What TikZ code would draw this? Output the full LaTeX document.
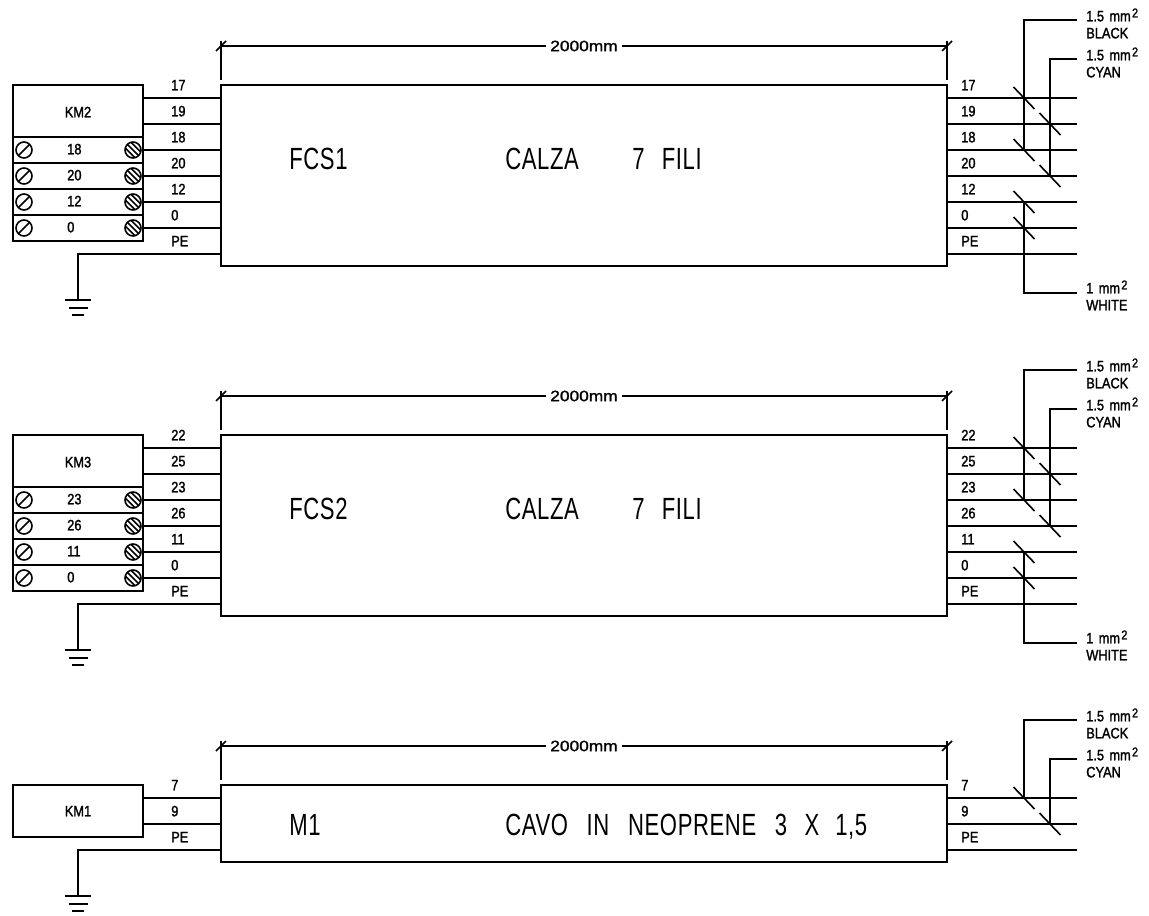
\documentclass[tikz,border=0pt]{standalone}
\usepackage{fontspec}
\newfontfamily\cadfont[FakeStretch=0.85,FakeBold=1.5]{Liberation Sans}
\newfontfamily\caddim[FakeStretch=1.15,FakeBold=1.5]{Liberation Sans}
\newfontfamily\cadbig[FakeStretch=0.72,LetterSpace=2]{Liberation Sans}
\newcommand{\mmsq}{\hspace{4pt}mm\hspace{1pt}\raisebox{3pt}{\fontsize{9.5}{10}\selectfont 2}}
\newlength{\du}
\setlength{\du}{0.75pt}
\tikzset{
  wire/.style={line width=1.6\du,black},
  boxnode/.style={draw,line width=1.6\du,anchor=north west,inner sep=0pt,outer sep=0pt},
  wirelabel/.style={anchor=west,inner sep=0pt,text height=8pt,text depth=0pt,font=\cadfont\fontsize{11.3}{12}\selectfont},
  dimlabel/.style={inner ysep=0pt,inner xsep=4\du,font=\caddim\fontsize{11.3}{12}\selectfont},
  bigtext/.style={anchor=west,inner sep=0pt,text height=16pt,text depth=0pt,font=\cadbig\fontsize{23}{24}\selectfont},
  screwslot/.pic={
    \draw[wire] (0,0) circle (8);
    \draw[wire] (-5.6,5.6) -- (5.6,-5.6);
  },
  screwcross/.pic={
    \draw[wire] (0,0) circle (8);
    \draw[wire] (-5.6,-5.6) -- (5.6,5.6);
    \draw[wire] (-1.9,-7.6) -- (7.6,1.9);
    \draw[wire] (-7.6,-1.9) -- (1.9,7.6);
  },
  earth/.pic={
    \draw[wire] (-13,0) -- (13,0);
    \draw[wire] (-9,8) -- (10,8);
    \draw[wire] (-6,15) -- (6,15);
  },
  tick/.pic={
    \draw[wire] (-10.5,-11) -- (10.5,11);
  },
  dimtick/.pic={
    \draw[wire] (-5,5) -- (5,-5);
  }
}

\begin{document}
\begin{tikzpicture}[x=\du,y=-\du]
\useasboundingbox (0,0) rectangle (1149,916);

% FCS1
\node[boxnode,minimum width=130\du,minimum height=156\du] (km2) at (13,85) {};
\node[boxnode,minimum width=726\du,minimum height=181\du] (fcsone) at (221,85) {};
\node[wirelabel,anchor=center] (km2name) at (78,112) {KM2};
\coordinate (ra1) at (13,137); \coordinate (rb1) at (143,137); \draw[wire] (ra1) -- (rb1);
\coordinate (ra2) at (13,163); \coordinate (rb2) at (143,163); \draw[wire] (ra2) -- (rb2);
\coordinate (ra3) at (13,189); \coordinate (rb3) at (143,189); \draw[wire] (ra3) -- (rb3);
\coordinate (ra4) at (13,215); \coordinate (rb4) at (143,215); \draw[wire] (ra4) -- (rb4);
\node[wirelabel] (kma) at (67,149) {18};
\node[wirelabel] (kmb) at (67,175) {20};
\node[wirelabel] (kmc) at (67,201) {12};
\node[wirelabel] (kmd) at (67,227) {0};
\pic at (24,150) {screwslot};
\pic at (24,176) {screwslot};
\pic at (24,202) {screwslot};
\pic at (24,228) {screwslot};
\pic at (133,150) {screwcross};
\pic at (133,176) {screwcross};
\pic at (133,202) {screwcross};
\pic at (133,228) {screwcross};
\coordinate (fa1) at (143,98); \coordinate (fb1) at (221,98); \draw[wire] (fa1) -- (fb1);
\coordinate (fa2) at (143,124); \coordinate (fb2) at (221,124); \draw[wire] (fa2) -- (fb2);
\coordinate (fa3) at (143,150); \coordinate (fb3) at (221,150); \draw[wire] (fa3) -- (fb3);
\coordinate (fa4) at (143,176); \coordinate (fb4) at (221,176); \draw[wire] (fa4) -- (fb4);
\coordinate (fa5) at (143,202); \coordinate (fb5) at (221,202); \draw[wire] (fa5) -- (fb5);
\coordinate (fa6) at (143,228); \coordinate (fb6) at (221,228); \draw[wire] (fa6) -- (fb6);
\coordinate (fb7) at (221,254); \coordinate (gnda) at (78,300); \draw[wire] (fb7) -| (gnda);
\pic at (gnda) {earth};
\node[wirelabel] (fla1) at (171,85) {17};
\node[wirelabel] (fla2) at (171,111) {19};
\node[wirelabel] (fla3) at (171,137) {18};
\node[wirelabel] (fla4) at (171,163) {20};
\node[wirelabel] (fla5) at (171,189) {12};
\node[wirelabel] (fla6) at (171,215) {0};
\node[wirelabel] (fla7) at (171,241) {PE};
\coordinate (fc1) at (947,98); \coordinate (fd1) at (1077,98); \draw[wire] (fc1) -- (fd1);
\coordinate (fc2) at (947,124); \coordinate (fd2) at (1077,124); \draw[wire] (fc2) -- (fd2);
\coordinate (fc3) at (947,150); \coordinate (fd3) at (1077,150); \draw[wire] (fc3) -- (fd3);
\coordinate (fc4) at (947,176); \coordinate (fd4) at (1077,176); \draw[wire] (fc4) -- (fd4);
\coordinate (fc5) at (947,202); \coordinate (fd5) at (1077,202); \draw[wire] (fc5) -- (fd5);
\coordinate (fc6) at (947,228); \coordinate (fd6) at (1077,228); \draw[wire] (fc6) -- (fd6);
\coordinate (fc7) at (947,254); \coordinate (fd7) at (1077,254); \draw[wire] (fc7) -- (fd7);
\node[wirelabel] (flb1) at (961,85) {17};
\node[wirelabel] (flb2) at (961,111) {19};
\node[wirelabel] (flb3) at (961,137) {18};
\node[wirelabel] (flb4) at (961,163) {20};
\node[wirelabel] (flb5) at (961,189) {12};
\node[wirelabel] (flb6) at (961,215) {0};
\node[wirelabel] (flb7) at (961,241) {PE};
\pic at (1024,98) {tick};
\pic at (1050,124) {tick};
\pic at (1024,150) {tick};
\pic at (1050,176) {tick};
\pic at (1024,202) {tick};
\pic at (1024,228) {tick};
\coordinate (fblacka) at (1077,20); \coordinate (fblackb) at (1024,150); \draw[wire] (fblacka) -| (fblackb);
\coordinate (fcyana) at (1077,59); \coordinate (fcyanb) at (1050,176); \draw[wire] (fcyana) -| (fcyanb);
\coordinate (fwhitea) at (1077,293); \coordinate (fwhiteb) at (1024,202); \draw[wire] (fwhitea) -| (fwhiteb);
\node[wirelabel] (fblackt) at (1086,16) {1.5\mmsq};
\node[wirelabel] (fblackn) at (1086,33) {BLACK};
\node[wirelabel] (fcyant) at (1086,55) {1.5\mmsq};
\node[wirelabel] (fcyann) at (1086,72) {CYAN};
\node[wirelabel] (fwhitet) at (1086,288) {1\mmsq};
\node[wirelabel] (fwhiten) at (1086,305) {WHITE};
\node[dimlabel] (fdim) at (584,46) {2000mm};
\coordinate (fdl) at (221,46); \coordinate (fdr) at (947,46);
\draw[wire] (fdl) -- (fdim.west) (fdim.east) -- (fdr);
\coordinate (fel) at (221,80); \draw[wire] (fdl) ++(0,-5) -- (fel);
\coordinate (fer) at (947,80); \draw[wire] (fdr) ++(0,-5) -- (fer);
\pic at (fdl) {dimtick};
\pic at (fdr) {dimtick};
\node[bigtext] (fname) at (289,159) {FCS1};
\node[bigtext] (fcalza) at (505,159) {CALZA};
\node[bigtext] (ffili) at (632,159) {7\hspace{13pt}FILI};

% FCS2
\node[boxnode,minimum width=130\du,minimum height=156\du] (km3) at (13,435) {};
\node[boxnode,minimum width=726\du,minimum height=181\du] (fcstwo) at (221,435) {};
\node[wirelabel,anchor=center] (km3name) at (78,462) {KM3};
\coordinate (sa1) at (13,487); \coordinate (sb1) at (143,487); \draw[wire] (sa1) -- (sb1);
\coordinate (sa2) at (13,513); \coordinate (sb2) at (143,513); \draw[wire] (sa2) -- (sb2);
\coordinate (sa3) at (13,539); \coordinate (sb3) at (143,539); \draw[wire] (sa3) -- (sb3);
\coordinate (sa4) at (13,565); \coordinate (sb4) at (143,565); \draw[wire] (sa4) -- (sb4);
\node[wirelabel] (kme) at (67,499) {23};
\node[wirelabel] (kmf) at (67,525) {26};
\node[wirelabel] (kmg) at (67,551) {11};
\node[wirelabel] (kmh) at (67,577) {0};
\pic at (24,500) {screwslot};
\pic at (24,526) {screwslot};
\pic at (24,552) {screwslot};
\pic at (24,578) {screwslot};
\pic at (133,500) {screwcross};
\pic at (133,526) {screwcross};
\pic at (133,552) {screwcross};
\pic at (133,578) {screwcross};
\coordinate (ga1) at (143,448); \coordinate (gb1) at (221,448); \draw[wire] (ga1) -- (gb1);
\coordinate (ga2) at (143,474); \coordinate (gb2) at (221,474); \draw[wire] (ga2) -- (gb2);
\coordinate (ga3) at (143,500); \coordinate (gb3) at (221,500); \draw[wire] (ga3) -- (gb3);
\coordinate (ga4) at (143,526); \coordinate (gb4) at (221,526); \draw[wire] (ga4) -- (gb4);
\coordinate (ga5) at (143,552); \coordinate (gb5) at (221,552); \draw[wire] (ga5) -- (gb5);
\coordinate (ga6) at (143,578); \coordinate (gb6) at (221,578); \draw[wire] (ga6) -- (gb6);
\coordinate (gb7) at (221,604); \coordinate (gndb) at (78,650); \draw[wire] (gb7) -| (gndb);
\pic at (gndb) {earth};
\node[wirelabel] (gla1) at (171,435) {22};
\node[wirelabel] (gla2) at (171,461) {25};
\node[wirelabel] (gla3) at (171,487) {23};
\node[wirelabel] (gla4) at (171,513) {26};
\node[wirelabel] (gla5) at (171,539) {11};
\node[wirelabel] (gla6) at (171,565) {0};
\node[wirelabel] (gla7) at (171,591) {PE};
\coordinate (gc1) at (947,448); \coordinate (gd1) at (1077,448); \draw[wire] (gc1) -- (gd1);
\coordinate (gc2) at (947,474); \coordinate (gd2) at (1077,474); \draw[wire] (gc2) -- (gd2);
\coordinate (gc3) at (947,500); \coordinate (gd3) at (1077,500); \draw[wire] (gc3) -- (gd3);
\coordinate (gc4) at (947,526); \coordinate (gd4) at (1077,526); \draw[wire] (gc4) -- (gd4);
\coordinate (gc5) at (947,552); \coordinate (gd5) at (1077,552); \draw[wire] (gc5) -- (gd5);
\coordinate (gc6) at (947,578); \coordinate (gd6) at (1077,578); \draw[wire] (gc6) -- (gd6);
\coordinate (gc7) at (947,604); \coordinate (gd7) at (1077,604); \draw[wire] (gc7) -- (gd7);
\node[wirelabel] (glb1) at (961,435) {22};
\node[wirelabel] (glb2) at (961,461) {25};
\node[wirelabel] (glb3) at (961,487) {23};
\node[wirelabel] (glb4) at (961,513) {26};
\node[wirelabel] (glb5) at (961,539) {11};
\node[wirelabel] (glb6) at (961,565) {0};
\node[wirelabel] (glb7) at (961,591) {PE};
\pic at (1024,448) {tick};
\pic at (1050,474) {tick};
\pic at (1024,500) {tick};
\pic at (1050,526) {tick};
\pic at (1024,552) {tick};
\pic at (1024,578) {tick};
\coordinate (gblacka) at (1077,370); \coordinate (gblackb) at (1024,500); \draw[wire] (gblacka) -| (gblackb);
\coordinate (gcyana) at (1077,409); \coordinate (gcyanb) at (1050,526); \draw[wire] (gcyana) -| (gcyanb);
\coordinate (gwhitea) at (1077,643); \coordinate (gwhiteb) at (1024,552); \draw[wire] (gwhitea) -| (gwhiteb);
\node[wirelabel] (gblackt) at (1086,366) {1.5\mmsq};
\node[wirelabel] (gblackn) at (1086,383) {BLACK};
\node[wirelabel] (gcyant) at (1086,405) {1.5\mmsq};
\node[wirelabel] (gcyann) at (1086,422) {CYAN};
\node[wirelabel] (gwhitet) at (1086,638) {1\mmsq};
\node[wirelabel] (gwhiten) at (1086,655) {WHITE};
\node[dimlabel] (gdim) at (584,396) {2000mm};
\coordinate (gdl) at (221,396); \coordinate (gdr) at (947,396);
\draw[wire] (gdl) -- (gdim.west) (gdim.east) -- (gdr);
\coordinate (gel) at (221,430); \draw[wire] (gdl) ++(0,-5) -- (gel);
\coordinate (ger) at (947,430); \draw[wire] (gdr) ++(0,-5) -- (ger);
\pic at (gdl) {dimtick};
\pic at (gdr) {dimtick};
\node[bigtext] (gname) at (289,509) {FCS2};
\node[bigtext] (gcalza) at (505,509) {CALZA};
\node[bigtext] (gfili) at (632,509) {7\hspace{13pt}FILI};

% M1
\node[boxnode,minimum width=130\du,minimum height=52\du] (km1) at (13,785) {};
\node[boxnode,minimum width=726\du,minimum height=77\du] (mone) at (221,785) {};
\node[wirelabel,anchor=center] (km1name) at (78,811) {KM1};
\coordinate (ma1) at (143,798); \coordinate (mb1) at (221,798); \draw[wire] (ma1) -- (mb1);
\coordinate (ma2) at (143,824); \coordinate (mb2) at (221,824); \draw[wire] (ma2) -- (mb2);
\coordinate (mb3) at (221,850); \coordinate (gndc) at (78,896); \draw[wire] (mb3) -| (gndc);
\pic at (gndc) {earth};
\node[wirelabel] (mla1) at (171,785) {7};
\node[wirelabel] (mla2) at (171,811) {9};
\node[wirelabel] (mla3) at (171,837) {PE};
\coordinate (mc1) at (947,798); \coordinate (md1) at (1077,798); \draw[wire] (mc1) -- (md1);
\coordinate (mc2) at (947,824); \coordinate (md2) at (1077,824); \draw[wire] (mc2) -- (md2);
\coordinate (mc3) at (947,850); \coordinate (md3) at (1077,850); \draw[wire] (mc3) -- (md3);
\node[wirelabel] (mlb1) at (961,785) {7};
\node[wirelabel] (mlb2) at (961,811) {9};
\node[wirelabel] (mlb3) at (961,837) {PE};
\pic at (1024,798) {tick};
\pic at (1050,824) {tick};
\coordinate (mblacka) at (1077,720); \coordinate (mblackb) at (1024,798); \draw[wire] (mblacka) -| (mblackb);
\coordinate (mcyana) at (1077,759); \coordinate (mcyanb) at (1050,824); \draw[wire] (mcyana) -| (mcyanb);
\node[wirelabel] (mblackt) at (1086,716) {1.5\mmsq};
\node[wirelabel] (mblackn) at (1086,733) {BLACK};
\node[wirelabel] (mcyant) at (1086,755) {1.5\mmsq};
\node[wirelabel] (mcyann) at (1086,772) {CYAN};
\node[dimlabel] (mdim) at (584,746) {2000mm};
\coordinate (mdl) at (221,746); \coordinate (mdr) at (947,746);
\draw[wire] (mdl) -- (mdim.west) (mdim.east) -- (mdr);
\coordinate (mel) at (221,780); \draw[wire] (mdl) ++(0,-5) -- (mel);
\coordinate (mer) at (947,780); \draw[wire] (mdr) ++(0,-5) -- (mer);
\pic at (mdl) {dimtick};
\pic at (mdr) {dimtick};
\node[bigtext] (mname) at (289,825) {M1};
\node[bigtext] (mcable) at (505,825) {CAVO\hspace{14pt}IN\hspace{14pt}NEOPRENE\hspace{14pt}3\hspace{13pt}X\hspace{12pt}1,5};
\end{tikzpicture}
\end{document}
